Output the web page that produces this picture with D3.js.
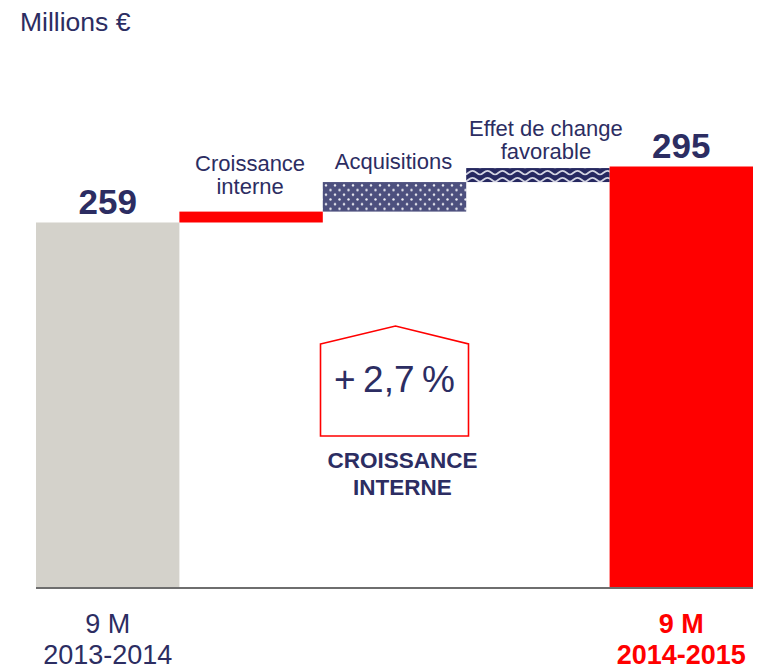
<!DOCTYPE html>
<html>
<head>
<meta charset="utf-8">
<script src="https://cdn.jsdelivr.net/npm/d3@7"></script>
<style>
  body { margin: 0; background: #fff; }
  svg { display: block; font-family: Arial, 'Liberation Sans', sans-serif; }
</style>
</head>
<body>
<div id="chart"></div>
<script>
const categories = ['9 M 2013-2014', 'Croissance interne', 'Acquisitions', 'Effet de change favorable', '9 M 2014-2015']
const startValue = 259
const deltas = [7, 19, 9]
const endValue = 295
const stepLabels = [['Croissance', 'interne'], ['Acquisitions'], ['Effet de change', 'favorable']]
const periodLabels = [['9 M', '2013-2014'], ['9 M', '2014-2015']]
const growthText = '+\u20092,7\u2009%'
const growthLabel = ['CROISSANCE', 'INTERNE']
const axisFloor = 24

const NAVY = '#2c2d62'
const RED = '#ff0000'
const width = 769
const height = 670

const svg = d3.select('#chart').append('svg')
  .attr('width', width)
  .attr('height', height)

const x = d3.scaleBand().domain(categories).range([36, 753]).padding(0)
const y = d3.scaleLinear().domain([axisFloor, endValue]).range([588, 166.5])

// patterns
const defs = svg.append('defs')
const dots = defs.append('pattern')
  .attr('id', 'dots').attr('patternUnits', 'userSpaceOnUse')
  .attr('width', 9).attr('height', 9.4).attr('y', 183)
dots.append('rect').attr('width', 9).attr('height', 9.4).attr('fill', '#4d507e')
dots.append('circle').attr('cx', 2).attr('cy', 2.3).attr('r', 1.2).attr('fill', '#f4f4f8')
dots.append('circle').attr('cx', 6.5).attr('cy', 7).attr('r', 1.2).attr('fill', '#f4f4f8')

const waves = defs.append('pattern')
  .attr('id', 'waves').attr('patternUnits', 'userSpaceOnUse')
  .attr('width', 15).attr('height', 7).attr('y', 169)
waves.append('rect').attr('width', 15).attr('height', 7).attr('fill', '#262860')
waves.append('path')
  .attr('d', 'M0,5.5 C3,5.5 4,1.8 7.5,1.8 C11,1.8 12,5.5 15,5.5')
  .attr('fill', 'none').attr('stroke', '#d4d5e3').attr('stroke-width', 1.7)

// waterfall segments
const segments = []
segments.push({ cat: categories[0], lo: axisFloor, hi: startValue, fill: '#d4d2cb' })
let cum = startValue
const fills = [RED, 'url(#dots)', 'url(#waves)']
deltas.forEach((d, i) => {
  segments.push({ cat: categories[i + 1], lo: cum, hi: cum + d, fill: fills[i] })
  cum += d
})
segments.push({ cat: categories[4], lo: axisFloor, hi: endValue, fill: RED })

svg.append('g').selectAll('rect')
  .data(segments)
  .join('rect')
  .attr('x', d => x(d.cat))
  .attr('y', d => y(d.hi))
  .attr('width', x.bandwidth())
  .attr('height', d => y(d.lo) - y(d.hi))
  .attr('fill', d => d.fill)

// baseline
svg.append('line')
  .attr('x1', x.range()[0]).attr('x2', x.range()[1])
  .attr('y1', y(axisFloor)).attr('y2', y(axisFloor))
  .attr('stroke', '#6e6e6e').attr('stroke-width', 2)

// unit
svg.append('text')
  .attr('x', 20).attr('y', 31)
  .attr('fill', NAVY).attr('font-size', 26.5)
  .text('Millions €')

// totals
;[[categories[0], startValue], [categories[4], endValue]].forEach(([c, v]) => {
  svg.append('text')
    .attr('x', x(c) + x.bandwidth() / 2)
    .attr('y', y(v) - 8.5)
    .attr('text-anchor', 'middle')
    .attr('font-size', 35).attr('font-weight', 'bold')
    .attr('fill', NAVY)
    .text(v)
})

// step labels
const labelGap = [18, 13, 9]
const labelShift = [-1, -1, 8]
stepLabels.forEach((lines, i) => {
  const seg = segments[i + 1]
  const cx = x(seg.cat) + x.bandwidth() / 2 + labelShift[i]
  const base = y(seg.hi) - labelGap[i]
  const t = svg.append('text')
    .attr('text-anchor', 'middle')
    .attr('font-size', 22)
    .attr('fill', NAVY)
  lines.forEach((l, j) => {
    t.append('tspan')
      .attr('x', cx)
      .attr('y', base - (lines.length - 1 - j) * 23)
      .text(l)
  })
})

// period labels
;[[categories[0], periodLabels[0], NAVY, 'normal'], [categories[4], periodLabels[1], RED, 'bold']]
  .forEach(([c, lines, col, fw]) => {
    const cx = x(c) + x.bandwidth() / 2
    lines.forEach((l, j) => {
      svg.append('text')
        .attr('x', cx).attr('y', 633 + j * 30.5)
        .attr('text-anchor', 'middle')
        .attr('font-size', 27).attr('font-weight', fw)
        .attr('fill', col)
        .text(l)
    })
  })

// growth callout
const gx = x(categories[2]) + x.bandwidth() / 2
svg.append('path')
  .attr('d', `M${gx - 74},344 L${gx + 1},326 L${gx + 74},344 L${gx + 74},436 L${gx - 74},436 Z`)
  .attr('fill', 'none').attr('stroke', RED).attr('stroke-width', 1.6)
svg.append('text')
  .attr('x', gx).attr('y', 392)
  .attr('text-anchor', 'middle')
  .attr('font-size', 37)
  .attr('fill', NAVY)
  .text(growthText)
growthLabel.forEach((l, j) => {
  svg.append('text')
    .attr('x', gx + 8).attr('y', 468 + j * 27)
    .attr('text-anchor', 'middle')
    .attr('font-size', 22.5).attr('font-weight', 'bold')
    .attr('fill', NAVY)
    .text(l)
})
</script>
</body>
</html>
